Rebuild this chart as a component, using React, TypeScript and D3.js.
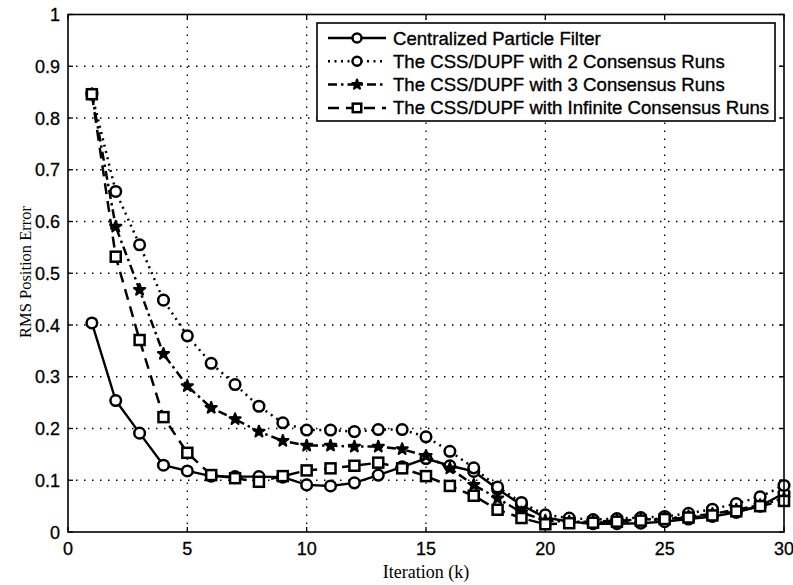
import React from "react";
import * as d3 from "d3";

const iterations = Array.from({ length: 30 }, (_, i) => i + 1);
const centralized = [0.404, 0.254, 0.191, 0.129, 0.118, 0.108, 0.107, 0.107, 0.106, 0.091, 0.089, 0.095, 0.110, 0.126, 0.142, 0.128, 0.117, 0.083, 0.052, 0.028, 0.020, 0.016, 0.016, 0.017, 0.020, 0.025, 0.030, 0.038, 0.050, 0.075];
const runs2 = [0.846, 0.658, 0.555, 0.448, 0.379, 0.326, 0.285, 0.243, 0.211, 0.197, 0.197, 0.194, 0.198, 0.198, 0.184, 0.156, 0.124, 0.087, 0.057, 0.033, 0.027, 0.024, 0.026, 0.028, 0.030, 0.036, 0.044, 0.055, 0.068, 0.090];
const runs3 = [0.846, 0.590, 0.468, 0.344, 0.282, 0.240, 0.218, 0.194, 0.176, 0.167, 0.167, 0.165, 0.165, 0.160, 0.147, 0.123, 0.091, 0.065, 0.038, 0.022, 0.020, 0.020, 0.022, 0.024, 0.026, 0.030, 0.035, 0.043, 0.052, 0.065];
const runsInf = [0.846, 0.532, 0.371, 0.222, 0.153, 0.110, 0.104, 0.097, 0.108, 0.119, 0.123, 0.128, 0.134, 0.123, 0.108, 0.089, 0.070, 0.043, 0.027, 0.015, 0.017, 0.018, 0.020, 0.022, 0.025, 0.028, 0.032, 0.040, 0.050, 0.060];
const legendLabels = [
  "Centralized Particle Filter",
  "The CSS/DUPF with 2 Consensus Runs",
  "The CSS/DUPF with 3 Consensus Runs",
  "The CSS/DUPF with Infinite Consensus Runs",
];
const xTicks = [0, 5, 10, 15, 20, 25, 30];
const yTicks = [0, 0.1, 0.2, 0.3, 0.4, 0.5, 0.6, 0.7, 0.8, 0.9, 1];

const L = 68, R = 784, T = 14.5, B = 532;
const x = d3.scaleLinear().domain([0, 30]).range([L, R]);
const y = d3.scaleLinear().domain([0, 1]).range([B, T]);

type Style = { dash: string; marker: "circle" | "star" | "square"; width: number };
const styles: Style[] = [
  { dash: "none", marker: "circle", width: 2.4 },
  { dash: "2,4.5", marker: "circle", width: 2.5 },
  { dash: "9,4,2.5,4", marker: "star", width: 2.5 },
  { dash: "11,7", marker: "square", width: 2.5 },
];
const seriesList = [centralized, runs2, runs3, runsInf];
const sans = "'Liberation Sans', Arial, Helvetica, sans-serif";
const serif = "'Liberation Serif', 'Times New Roman', serif";

function Marker({ kind, cx, cy, s = 1 }: { kind: string; cx: number; cy: number; s?: number }) {
  if (kind === "circle")
    return <circle cx={cx} cy={cy} r={5.3 * s} fill="white" stroke="black" strokeWidth={2.5} />;
  if (kind === "square")
    return <rect x={cx - 5 * s} y={cy - 5 * s} width={10 * s} height={10 * s} fill="white" stroke="black" strokeWidth={2.5} />;
  const p = d3.symbol().type(d3.symbolStar).size(38 * s * s)() as string;
  return <path d={p} transform={`translate(${cx},${cy})`} fill="black" stroke="black" strokeWidth={2.2} strokeLinejoin="round" />;
}

export default function App() {
  const line = d3.line<number>().x((_, i) => x(iterations[i])).y((d) => y(d));
  const tickLen = 5;
  return (
    <svg width={793} height={585} style={{ position: "absolute", left: 0, top: 0, background: "white" }}>
      <rect x={0} y={0} width={793} height={585} fill="white" />
      {xTicks.slice(1, -1).map((t) => (
        <line key={"gx" + t} x1={x(t)} x2={x(t)} y1={B} y2={T} stroke="black" strokeWidth={1.3} strokeDasharray="1.5,6.5" />
      ))}
      {yTicks.slice(1, -1).map((t) => (
        <line key={"gy" + t} x1={L} x2={R} y1={y(t)} y2={y(t)} stroke="black" strokeWidth={1.3} strokeDasharray="1.5,6.5" />
      ))}
      {xTicks.map((t) => (
        <g key={"tx" + t}>
          <line x1={x(t)} x2={x(t)} y1={B} y2={B - tickLen} stroke="black" strokeWidth={1.3} />
          <line x1={x(t)} x2={x(t)} y1={T} y2={T + tickLen} stroke="black" strokeWidth={1.3} />
          <text x={x(t)} y={B + 23} textAnchor="middle" fontFamily={sans} fontSize={18} fill="black" stroke="black" strokeWidth={0.3}>{t}</text>
        </g>
      ))}
      {yTicks.map((t) => (
        <g key={"ty" + t}>
          <line x1={L} x2={L + tickLen} y1={y(t)} y2={y(t)} stroke="black" strokeWidth={1.3} />
          <line x1={R} x2={R - tickLen} y1={y(t)} y2={y(t)} stroke="black" strokeWidth={1.3} />
          <text x={L - 8} y={y(t) + 6.5} textAnchor="end" fontFamily={sans} fontSize={18} fill="black" stroke="black" strokeWidth={0.3}>{t === 0 || t === 1 ? String(t) : t.toFixed(1)}</text>
        </g>
      ))}
      {seriesList.map((s, si) => (
        <path key={"l" + si} d={line(s) as string} fill="none" stroke="black" strokeWidth={styles[si].width} strokeDasharray={styles[si].dash} />
      ))}
      {seriesList.map((s, si) => (
        <g key={"m" + si}>
          {s.map((v, i) => (
            <Marker key={i} kind={styles[si].marker} cx={x(iterations[i])} cy={y(v)} />
          ))}
        </g>
      ))}
      <rect x={L} y={T} width={R - L} height={B - T} fill="none" stroke="black" strokeWidth={1.6} />
      <rect x={317} y={23} width={458} height={98} fill="white" stroke="black" strokeWidth={1.6} />
      {legendLabels.map((lab, i) => {
        const ly = 38 + i * 23.3;
        return (
          <g key={"lg" + i}>
            <line x1={328} x2={386} y1={ly} y2={ly} stroke="black" strokeWidth={styles[i].width} strokeDasharray={styles[i].dash} />
            <Marker kind={styles[i].marker} cx={357} cy={ly} s={0.85} />
            <text x={393} y={ly + 6.5} fontFamily={sans} fontSize={18.6} fill="black" stroke="black" strokeWidth={0.35}>{lab}</text>
          </g>
        );
      })}
      <text x={426} y={578} textAnchor="middle" fontFamily={serif} fontSize={18} fill="black">Iteration (k)</text>
      <text transform="translate(31,272) rotate(-90)" textAnchor="middle" fontFamily={serif} fontSize={16.5} fill="black">RMS Position Error</text>
    </svg>
  );
}
